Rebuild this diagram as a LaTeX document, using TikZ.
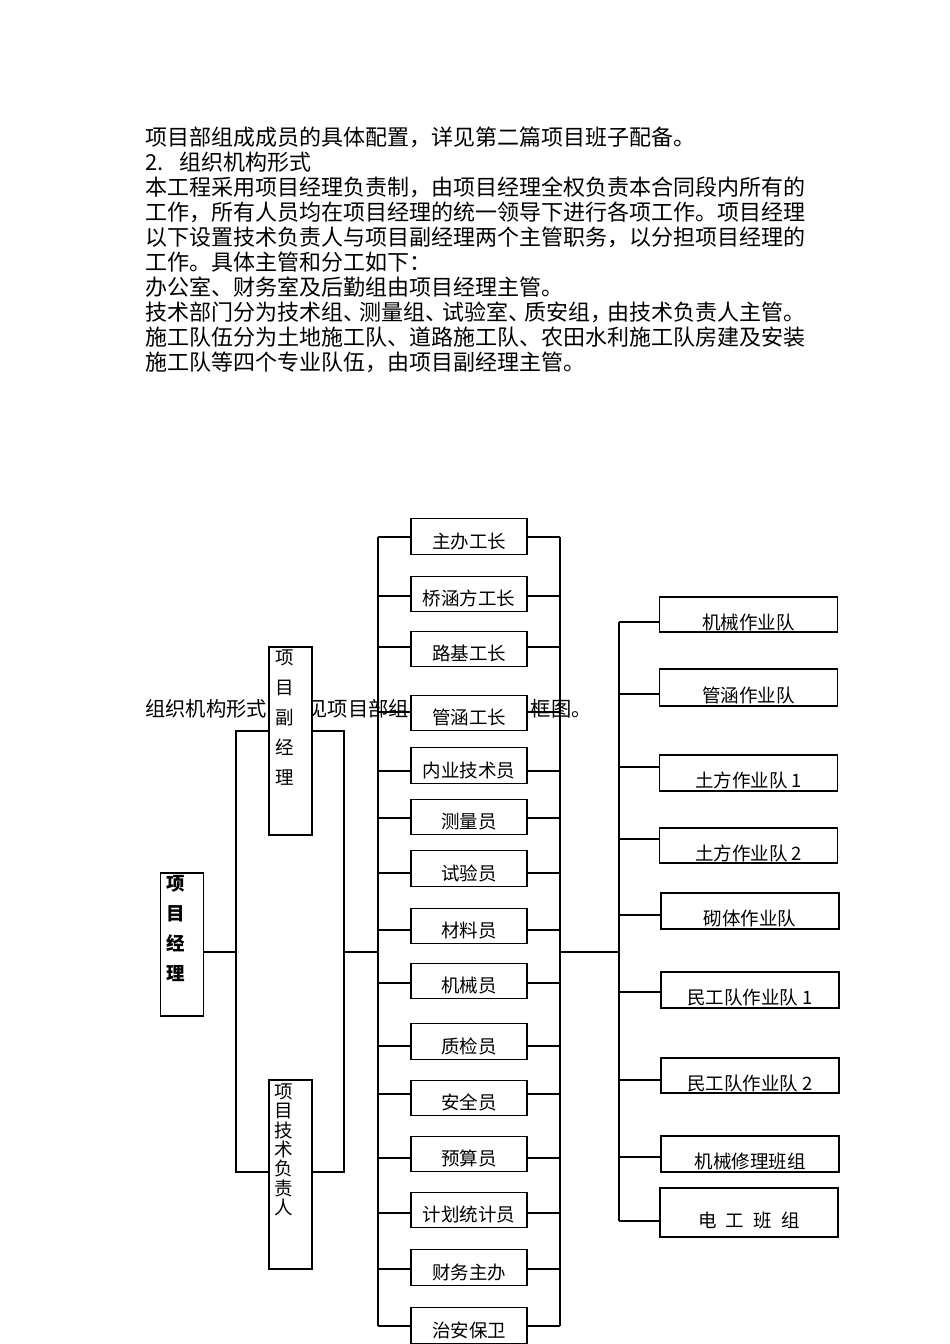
\documentclass[tikz,border=0pt]{standalone}
\usepackage{fontspec}
\setmainfont{Noto Sans CJK SC}
\usetikzlibrary{positioning}

\begin{document}
\begin{tikzpicture}[x=1pt, y=-1pt,
    link/.style={draw, line width=1.2pt},
    post/.style={draw, line width=1.2pt, fill=white, minimum width=116pt, minimum height=35.5pt,
      inner sep=0pt, text height=23pt, text depth=0pt, font=\fontsize{18.5pt}{20pt}\selectfont},
    team/.style={post, minimum width=178pt, text height=29pt},
    lead/.style={draw, line width=1.2pt, fill=white, minimum width=43pt, inner sep=0pt},
    vtext/.style={inner sep=0pt, align=left, anchor=north west},
    notetext/.style={anchor=base west, inner sep=0pt, font=\fontsize{20.3pt}{24pt}\selectfont}]
  \useasboundingbox (0,0) rectangle (950,1344);

  \def \Lines {
    1/项目部组成成员的具体配置，详见第二篇项目班子配备。,
    2/2.\hspace{16pt}组织机构形式,
    3/本工程采用项目经理负责制，由项目经理全权负责本合同段内所有的,
    4/工作，所有人员均在项目经理的统一领导下进行各项工作。项目经理,
    5/以下设置技术负责人与项目副经理两个主管职务，以分担项目经理的,
    6/工作。具体主管和分工如下：,
    7/办公室、财务室及后勤组由项目经理主管。,
    8/技术部门分为技术组、\kern-5.5pt测量组、\kern-5.5pt试验室、\kern-5.5pt质安组，\kern-5.5pt由技术负责人主管。,
    9/施工队伍分为土地施工队、道路施工队、农田水利施工队房建及安装,
    10/施工队等四个专业队伍，由项目副经理主管。}
  \def \Posts {
    m1/536.5/537/主办工长,
    m2/594/596/桥涵方工长,
    m3/649/647/路基工长,
    m4/713/712/管涵工长,
    m5/765.5/771/内业技术员,
    m6/817/818/测量员,
    m7/868.5/873/试验员,
    m8/926/930/材料员,
    m9/981/983/机械员,
    m10/1041.5/1046/质检员,
    m11/1098/1094/安全员,
    m12/1154/1158/预算员,
    m13/1210/1213/计划统计员,
    m14/1267.5/1269/财务主办,
    m15/1325.5/1326/治安保卫}
  \def \Teams {
    r1/748.5/614.5/35/622/机械作业队,
    r2/748.5/687.5/37/694/管涵作业队,
    r3/748.5/773/36/767/土方作业队 1,
    r4/748.5/845.5/35/839/土方作业队 2,
    r5/750/911/36/915/砌体作业队,
    r6/750/990/36/992/民工队作业队 1,
    r7/750/1075.5/35/1080/民工队作业队 2,
    r8/750/1154/36/1157/机械修理班组,
    r9/749/1212.5/49/1221/电\enspace 工\enspace 班\enspace 组}

  \foreach \i / \txt in \Lines {
    \node[anchor=base west, inner sep=0pt, font=\fontsize{22pt}{25pt}\selectfont] (line\i) at (145,{120.4+25*\i}) {\txt};
  }
  \node[notetext] (note1) at (145,716.7) {组织机构形式};
  \node[notetext] (note2) at (307.4,716.7) {见项目部组};
  \node[notetext] (note3) at (530.7,716.7) {框图。};

  \coordinate (hubL) at (236,952);
  \coordinate (hubM) at (344,952);
  \coordinate (busL) at (378,952);
  \coordinate (busR) at (560,952);
  \coordinate (hubR) at (619,952);

  \node[lead, minimum height=143pt] (jl) at (182,944.5) {};
  \node[lead, minimum height=188pt] (fj) at (290.5,741) {};
  \node[lead, minimum height=189pt] (js) at (290.5,1174.5) {};
  \node[vtext, font=\fontsize{18.5pt}{30pt}\selectfont\bfseries, below right=3pt and 6pt of jl.north west] (jlt) {项\\目\\经\\理};
  \node[vtext, font=\fontsize{18.5pt}{30pt}\selectfont, below right=3pt and 7pt of fj.north west] (fjt) {项\\目\\副\\经\\理};
  \node[vtext, font=\fontsize{18.5pt}{19.4pt}\selectfont, below right=4pt and 6pt of js.north west] (jst) {项\\目\\技\\术\\负\\责\\人};

  \draw[link] (jl.east |- hubL) -- (hubL);
  \draw[link] (fj.west |- 0,731) -| (hubL) |- (js.west |- 0,1172);
  \draw[link] (fj.east |- 0,731) -| (hubM) |- (js.east |- 0,1172);
  \draw[link] (hubM) -- (busL);
  \draw[link] (busR) -- (hubR);

  \foreach \id / \y / \cy / \txt in \Posts {
    \node[post] (\id) at (469,\y) {\txt};
    \draw[link] (\id.west |- 0,\cy) -- (busL |- 0,\cy);
    \draw[link] (\id.east |- 0,\cy) -- (busR |- 0,\cy);
  }
  \draw[link] (busL |- 0,537) -- (busL |- 0,1326);
  \draw[link] (busR |- 0,537) -- (busR |- 0,1326);

  \foreach \id / \x / \y / \h / \cy / \txt in \Teams {
    \node[team, minimum height=\h pt] (\id) at (\x,\y) {\txt};
    \draw[link] (\id.west |- 0,\cy) -- (hubR |- 0,\cy);
  }
  \draw[link] (hubR |- 0,622) -- (hubR |- 0,1221);
\end{tikzpicture}
\end{document}
